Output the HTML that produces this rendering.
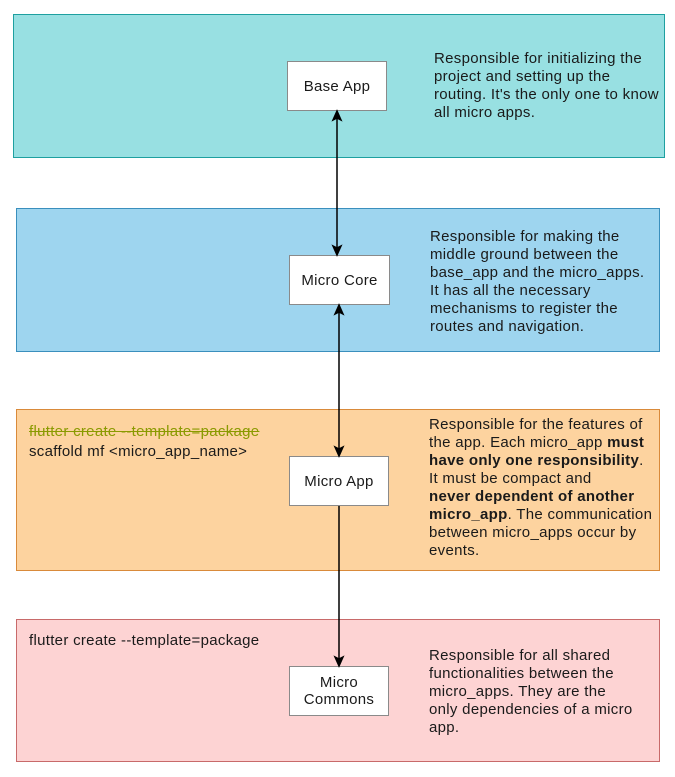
<!DOCTYPE html>
<html><head><style>
body{margin:0;width:675px;height:777px;background:#fff;position:relative;font-family:"Liberation Sans",Arial,sans-serif;color:#1a1a1a;overflow:hidden}
.p{position:absolute;box-sizing:border-box}
.b{position:absolute;box-sizing:border-box;background:#fff;border:1px solid #8a8a8a;display:flex;align-items:center;justify-content:center;text-align:center;font-size:15px;letter-spacing:0.3px;line-height:17px}
.t{position:absolute;font-size:15px;letter-spacing:0.3px;line-height:18px;white-space:nowrap}
</style></head><body>
<div class="p" style="left:13px;top:14px;width:652px;height:144px;background:#98e0e2;border:1px solid #1ea0a0"></div>
<div class="p" style="left:16px;top:208px;width:644px;height:144px;background:#9ed5ef;border:1px solid #3a8fbd"></div>
<div class="p" style="left:16px;top:409px;width:644px;height:162px;background:#fdd39f;border:1px solid #d98a3a"></div>
<div class="p" style="left:16px;top:619px;width:644px;height:143px;background:#fdd3d3;border:1px solid #c86a6a"></div>

<div class="b" style="left:287px;top:61px;width:100px;height:50px">Base App</div>
<div class="b" style="left:289px;top:255px;width:101px;height:50px">Micro Core</div>
<div class="b" style="left:289px;top:456px;width:100px;height:50px">Micro App</div>
<div class="b" style="left:289px;top:666px;width:100px;height:50px">Micro<br>Commons</div>

<svg width="675" height="777" style="position:absolute;left:0;top:0">
<g stroke="#000" stroke-width="1.5" fill="#000">
<line x1="337" y1="117" x2="337" y2="248"/>
<polygon points="337,111 333,120 337,118 341,120" />
<polygon points="337,255 333,246 337,248 341,246" />
<line x1="339" y1="311" x2="339" y2="449"/>
<polygon points="339,305 335,314 339,312 343,314" />
<polygon points="339,456 335,447 339,449 343,447" />
<line x1="339" y1="506" x2="339" y2="659"/>
<polygon points="339,666 335,657 339,659 343,657" />
</g></svg>

<div class="t" style="left:434px;top:50px">Responsible for initializing the<br>project and setting up the<br>routing. It's the only one to know<br>all micro apps.</div>
<div class="t" style="left:430px;top:228px">Responsible for making the<br>middle ground between the<br>base_app and the micro_apps.<br>It has all the necessary<br>mechanisms to register the<br>routes and navigation.</div>
<div class="t" style="left:429px;top:416px">Responsible for the features of<br>the app. Each micro_app <b>must<br>have only one responsibility</b>.<br>It must be compact and<br><b>never dependent of another<br>micro_app</b>. The communication<br>between micro_apps occur by<br>events.</div>
<div class="t" style="left:429px;top:647px">Responsible for all shared<br>functionalities between the<br>micro_apps. They are the<br>only dependencies of a micro<br>app.</div>

<div class="t" style="left:29px;top:423px;color:#8a9a00;text-decoration:line-through">flutter create --template=package</div>
<div class="t" style="left:29px;top:443px">scaffold mf &lt;micro_app_name&gt;</div>
<div class="t" style="left:29px;top:632px">flutter create --template=package</div>
</body></html>
